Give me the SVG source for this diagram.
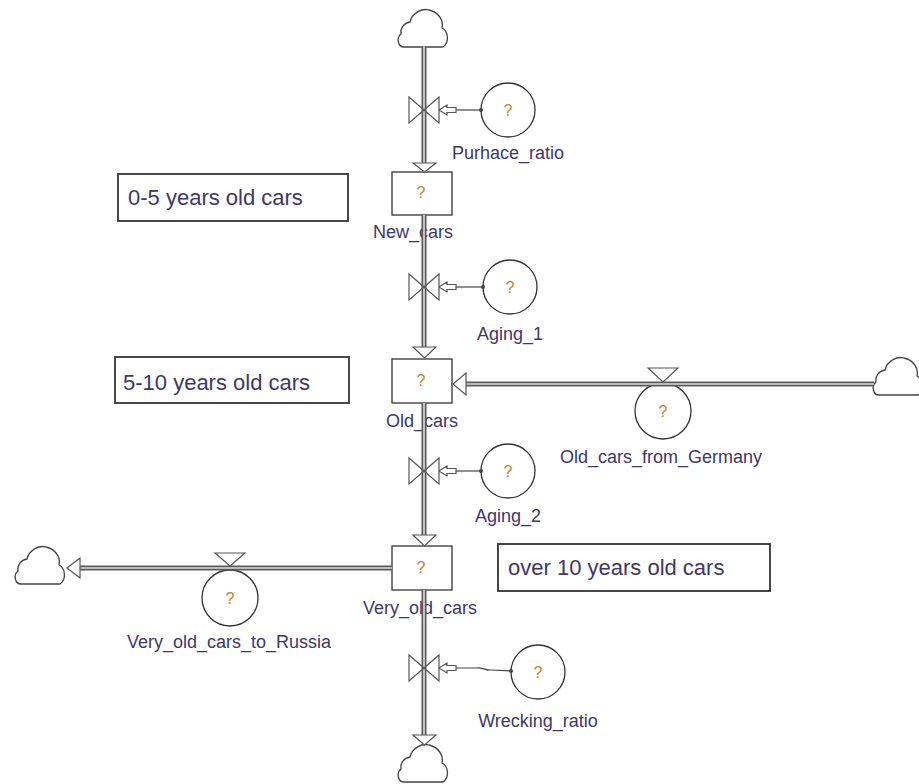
<svg xmlns="http://www.w3.org/2000/svg" width="919" height="784" viewBox="0 0 919 784">
<style>
  text { font-family: "Liberation Sans", Arial, sans-serif; fill: #3d3866; }
  .lbl { font-size: 18px; text-anchor: middle; }
  .note { font-size: 22px; }
  .q { font-size: 16px; text-anchor: middle; fill: #c0842e; }
  .stock { fill: #ffffff; stroke: #333333; stroke-width: 1.3; }
  .aux { fill: #ffffff; stroke: #333333; stroke-width: 1.3; }
  .notebox { fill: #ffffff; stroke: #333333; stroke-width: 1.8; }
  .cloud { fill: #ffffff; stroke: #444444; stroke-width: 1.3; stroke-linejoin: round; }
  .valve { fill: none; stroke: #555555; stroke-width: 1.2; stroke-linejoin: miter; }
  .pipeO { fill: none; stroke: #5a5a5a; stroke-width: 5; }
  .pipeI { fill: none; stroke: #dcdcdc; stroke-width: 1.6; }
  .head { fill: #ffffff; stroke: #555555; stroke-width: 1.2; stroke-linejoin: miter; }
  .link { fill: none; stroke: #444444; stroke-width: 1.2; }
  .dot { fill: #444444; }
</style>
<defs>
  <path id="cloud" d="M 6 39 C 0 39, -2 30, 3 26 C 2 20, 6 15, 12 14 C 14 5, 24 0, 31 2 C 40 4, 46 12, 44 20 C 50 23, 52 34, 45 39 Z"/>
  <polygon id="auxhead" points="0,0 8,-5 8,-2.5 17,-2.5 17,2.5 8,2.5 8,5"/>
</defs>

<!-- Text notes -->
<g id="note_0_5">
  <rect class="notebox" x="118" y="174" width="230" height="47"/>
  <text class="note" x="128" y="205">0-5 years old cars</text>
</g>
<g id="note_5_10">
  <rect class="notebox" x="115" y="357" width="234" height="46"/>
  <text class="note" x="123" y="390">5-10 years old cars</text>
</g>
<g id="note_over_10">
  <rect class="notebox" x="498" y="544" width="272" height="47"/>
  <text class="note" x="508" y="575">over 10 years old cars</text>
</g>

<!-- Clouds -->
<g id="cloud_top"><use href="#cloud" class="cloud" transform="translate(398,8)"/></g>
<g id="cloud_right"><use href="#cloud" class="cloud" transform="translate(873,356)"/></g>
<g id="cloud_left"><use href="#cloud" class="cloud" transform="translate(15,545)"/></g>
<g id="cloud_bottom"><use href="#cloud" class="cloud" transform="translate(398,743)"/></g>

<!-- Stocks -->
<g id="New_cars">
  <rect class="stock" x="392" y="172" width="60" height="43"/>
  <text class="q" x="421" y="198">?</text>
  <text class="lbl" x="413" y="238">New_cars</text>
</g>
<g id="Old_cars">
  <rect class="stock" x="392" y="359" width="60" height="44"/>
  <text class="q" x="421" y="386">?</text>
  <text class="lbl" x="422" y="427">Old_cars</text>
</g>
<g id="Very_old_cars">
  <rect class="stock" x="392" y="546" width="60" height="44"/>
  <text class="q" x="421" y="573">?</text>
  <text class="lbl" x="420" y="614">Very_old_cars</text>
</g>

<!-- Auxiliaries / flow rates -->
<g id="Purhace_ratio">
  <circle class="aux" cx="508" cy="110" r="27"/>
  <text class="q" x="508" y="116">?</text>
  <text class="lbl" x="508" y="159">Purhace_ratio</text>
</g>
<g id="Aging_1">
  <circle class="aux" cx="510" cy="287" r="27"/>
  <text class="q" x="510" y="293">?</text>
  <text class="lbl" x="510" y="340">Aging_1</text>
</g>
<g id="Aging_2">
  <circle class="aux" cx="508" cy="471" r="27"/>
  <text class="q" x="508" y="477">?</text>
  <text class="lbl" x="508" y="522">Aging_2</text>
</g>
<g id="Wrecking_ratio">
  <circle class="aux" cx="538" cy="672" r="27"/>
  <text class="q" x="538" y="678">?</text>
  <text class="lbl" x="538" y="727">Wrecking_ratio</text>
</g>
<g id="Old_cars_from_Germany">
  <circle class="aux" cx="663" cy="411" r="28"/>
  <text class="q" x="663" y="417">?</text>
  <text class="lbl" x="661" y="463">Old_cars_from_Germany</text>
</g>
<g id="Very_old_cars_to_Russia">
  <circle class="aux" cx="230" cy="598" r="28"/>
  <text class="q" x="230" y="604">?</text>
  <text class="lbl" x="229" y="648">Very_old_cars_to_Russia</text>
</g>

<!-- Connectors: pipes, valves, arrowheads, links -->
<g id="connectors">
  <!-- vertical pipes -->
  <path class="pipeO" d="M 424 46 V 164 M 424 215 V 347 M 424 403 V 536 M 424 590 V 736"/>
  <path class="pipeI" d="M 424 46 V 164 M 424 215 V 347 M 424 403 V 536 M 424 590 V 736"/>
  <!-- horizontal pipes -->
  <path class="pipeO" d="M 874 384 H 466 M 392 568 H 80"/>
  <path class="pipeI" d="M 874 384 H 466 M 392 568 H 80"/>

  <!-- flow arrowheads -->
  <polygon class="head" points="413,163 436,163 424.5,172"/>
  <polygon class="head" points="413,347 436,347 424.5,358"/>
  <polygon class="head" points="413,535 436,535 424.5,546"/>
  <polygon class="head" points="413,735 436,735 424.5,745"/>
  <polygon class="head" points="453,384 466,373 466,395"/>
  <polygon class="head" points="67,568 80,558 80,578"/>

  <!-- vertical valves (bowties) -->
  <path class="valve" d="M 409 97 L 424 110 L 409 123 Z M 439 97 L 424 110 L 439 123 Z"/>
  <path class="valve" d="M 409 274 L 424 287 L 409 300 Z M 439 274 L 424 287 L 439 300 Z"/>
  <path class="valve" d="M 409 458 L 424 471 L 409 484 Z M 439 458 L 424 471 L 439 484 Z"/>
  <path class="valve" d="M 409 655 L 424 668 L 409 681 Z M 439 655 L 424 668 L 439 681 Z"/>

  <!-- horizontal valves (triangles above pipe) -->
  <polygon class="head" points="648,368 678,368 663,382"/>
  <polygon class="head" points="215,553 245,553 230,566"/>

  <!-- information links -->
  <path class="link" d="M 456 110 H 481"/>
  <use href="#auxhead" class="head" transform="translate(439,110)"/>
  <circle class="dot" cx="481" cy="110" r="2"/>

  <path class="link" d="M 456 287 H 483"/>
  <use href="#auxhead" class="head" transform="translate(439,287)"/>
  <circle class="dot" cx="483" cy="287" r="2"/>

  <path class="link" d="M 456 471 H 481"/>
  <use href="#auxhead" class="head" transform="translate(439,471)"/>
  <circle class="dot" cx="481" cy="471" r="2"/>

  <path class="link" d="M 456 668 L 476 668 C 482 667, 484 670, 490 670 L 511 671"/>
  <use href="#auxhead" class="head" transform="translate(439,668)"/>
  <circle class="dot" cx="511" cy="671" r="2"/>
</g>
</svg>
